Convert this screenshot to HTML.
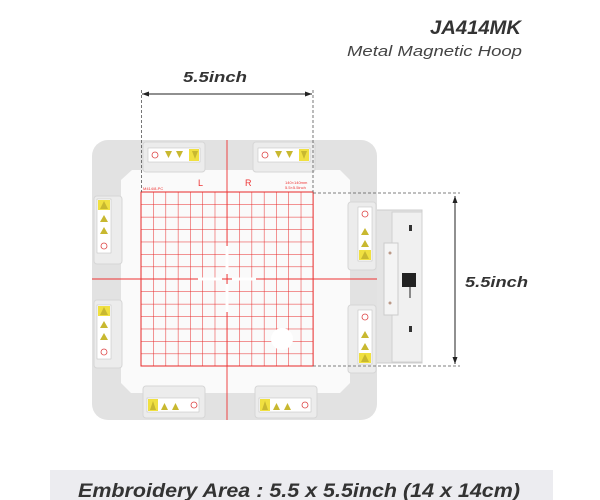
<!DOCTYPE html>
<html><head><meta charset="utf-8"><style>
body{margin:0;background:#fff;width:600px;height:500px;overflow:hidden;font-family:"Liberation Sans",sans-serif}
svg{position:absolute;left:0;top:0}
</style></head><body>
<svg width="600" height="500" viewBox="0 0 600 500" xmlns="http://www.w3.org/2000/svg">
<defs>
<pattern id="g" x="141" y="192" width="12.29" height="12.43" patternUnits="userSpaceOnUse">
<path d="M0 0H12.29M0 0V12.43" stroke="#e82828" stroke-width="1" fill="none"/>
</pattern>
</defs>
<text x="430" y="34" textLength="91" lengthAdjust="spacingAndGlyphs" font-size="19" font-weight="bold" font-style="italic" fill="#333">JA414MK</text>
<text x="347" y="56" textLength="175" lengthAdjust="spacingAndGlyphs" font-size="15" font-style="italic" fill="#444">Metal Magnetic Hoop</text>
<text x="183" y="82" textLength="64" lengthAdjust="spacingAndGlyphs" font-size="15" font-weight="bold" font-style="italic" fill="#333">5.5inch</text>
<line x1="142" y1="94" x2="312" y2="94" stroke="#222" stroke-width="1"/>
<path d="M142 94l7-2.5v5z M312 94l-7-2.5v5z" fill="#222"/>
<!-- right bracket -->
<rect x="372" y="210" width="50" height="153" fill="#e4e4e4" stroke="#ccc"/>
<rect x="392" y="212" width="30" height="150" fill="#f0f0f0" stroke="#d0d0d0"/>
<rect x="384" y="243" width="14" height="72" fill="#f4f4f4" stroke="#ccc"/>
<circle cx="390" cy="253" r="1.5" fill="#b98"/><circle cx="390" cy="303" r="1.5" fill="#b98"/>
<rect x="402" y="273" width="14" height="14" fill="#222"/>
<line x1="410" y1="287" x2="410" y2="298" stroke="#222"/>
<rect x="409" y="225" width="3" height="6" fill="#333"/><rect x="409" y="326" width="3" height="6" fill="#333"/>
<!-- frame -->
<rect x="92" y="140" width="285" height="280" rx="16" fill="#e2e2e2"/>
<path d="M132 170H340L350 180V383L340 393H131L121 383V180Z" fill="#fafafa"/>
<rect x="141" y="192" width="172.1" height="174" fill="url(#g)"/>
<rect x="141" y="192" width="172.1" height="174" fill="none" stroke="#e82828" stroke-width="1"/>
<line x1="227" y1="140" x2="227" y2="420" stroke="#e33" stroke-width="0.9"/>
<line x1="92" y1="279" x2="377" y2="279" stroke="#e33" stroke-width="0.9"/>
<path d="M198 279h24M232 279h24M227 246v28M227 284v28" stroke="#fff" stroke-width="3"/>
<circle cx="282" cy="339" r="11" fill="#fff"/>
<text x="198" y="186" font-size="9" fill="#e33">L</text>
<text x="245" y="186" font-size="9" fill="#e33">R</text>
<text x="143" y="190" font-size="4" fill="#e33">M414/8-PC</text>
<text x="285" y="184" font-size="4" fill="#e33">140×140mm</text>
<text x="285" y="189" font-size="4" fill="#e33">5.5×5.5inch</text>
<!-- tabs -->
<g fill="#ececec" stroke="#d6d6d6">
<rect x="143" y="142" width="62" height="30" rx="3"/><rect x="253" y="142" width="62" height="30" rx="3"/>
<rect x="143" y="386" width="62" height="32" rx="3"/><rect x="255" y="386" width="62" height="32" rx="3"/>
<rect x="94" y="196" width="28" height="68" rx="3"/><rect x="94" y="300" width="28" height="68" rx="3"/>
<rect x="348" y="202" width="28" height="68" rx="3"/><rect x="348" y="305" width="28" height="68" rx="3"/>
</g>
<g fill="#fff" stroke="#bbb" stroke-width="0.5">
<rect x="148" y="148" width="52" height="14"/><rect x="258" y="148" width="52" height="14"/>
<rect x="147" y="398" width="52" height="14"/><rect x="259" y="398" width="52" height="14"/>
<rect x="97" y="199" width="14" height="54"/><rect x="97" y="305" width="14" height="54"/>
<rect x="358" y="207" width="14" height="54"/><rect x="358" y="310" width="14" height="54"/>
</g>
<g fill="#f0e040">
<rect x="189" y="149" width="10" height="12"/><rect x="299" y="149" width="10" height="12"/>
<rect x="148" y="399" width="10" height="12"/><rect x="260" y="399" width="10" height="12"/>
<rect x="98" y="200" width="12" height="10"/><rect x="98" y="306" width="12" height="10"/>
<rect x="359" y="250" width="12" height="10"/><rect x="359" y="353" width="12" height="10"/>
</g>
<g fill="#c8b830">
<path d="M165 151h7l-3.5 7z M176 151h7l-3.5 7z M192 151h6l-3 8z M275 151h7l-3.5 7z M286 151h7l-3.5 7z M301 151h6l-3 8z"/>
<path d="M150 410l3-9 3 9z M161 410l3.5-7 3.5 7z M172 410l3.5-7 3.5 7z M262 410l3-9 3 9z M273 410l3.5-7 3.5 7z M284 410l3.5-7 3.5 7z"/>
<path d="M100 209l4-8 4 8z M100 222l4-7 4 7z M100 234l4-7 4 7z M100 315l4-8 4 8z M100 328l4-7 4 7z M100 340l4-7 4 7z"/>
<path d="M361 259l4-8 4 8z M361 247l4-7 4 7z M361 235l4-7 4 7z M361 362l4-8 4 8z M361 350l4-7 4 7z M361 338l4-7 4 7z"/>
</g>
<g fill="none" stroke="#d44" stroke-width="0.8">
<circle cx="155" cy="155" r="3"/><circle cx="265" cy="155" r="3"/><circle cx="194" cy="405" r="3"/><circle cx="305" cy="405" r="3"/>
<circle cx="104" cy="246" r="3"/><circle cx="104" cy="352" r="3"/><circle cx="365" cy="214" r="3"/><circle cx="365" cy="317" r="3"/>
</g>
<!-- dashed guides -->
<g stroke="#555" stroke-width="0.8" stroke-dasharray="3,2" fill="none">
<line x1="141.5" y1="90" x2="141.5" y2="192"/><line x1="313" y1="90" x2="313" y2="192"/>
<line x1="313" y1="193" x2="460" y2="193"/><line x1="313" y1="366" x2="460" y2="366"/>
</g>
<line x1="455" y1="196" x2="455" y2="364" stroke="#222"/>
<path d="M455 196l-2.5 7h5z M455 364l-2.5-7h5z" fill="#222"/>
<text x="465" y="287" textLength="63" lengthAdjust="spacingAndGlyphs" font-size="15" font-weight="bold" font-style="italic" fill="#333">5.5inch</text>
<rect x="50" y="470" width="503" height="30" fill="#ececf0"/>
<text x="78" y="497" textLength="442" lengthAdjust="spacingAndGlyphs" font-size="19" font-weight="bold" font-style="italic" fill="#333">Embroidery Area : 5.5 x 5.5inch (14 x 14cm)</text>
</svg>
</body></html>
